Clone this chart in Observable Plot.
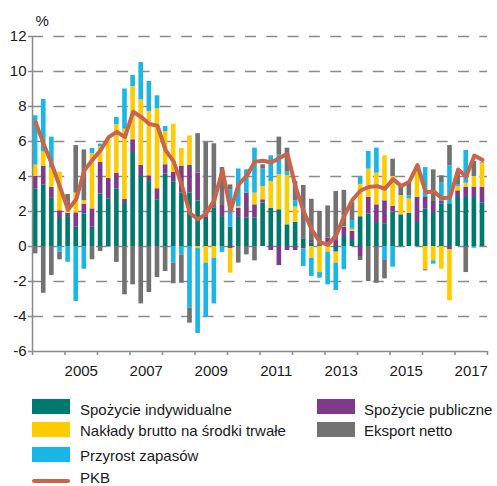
<!DOCTYPE html>
<html>
<head>
<meta charset="utf-8">
<script src="https://cdn.jsdelivr.net/npm/d3@7"></script>
<script src="https://cdn.jsdelivr.net/npm/@observablehq/plot@0.6"></script>
<style>
  html, body { margin: 0; padding: 0; background: #fff; }
  body { width: 497px; height: 486px; overflow: hidden; font-family: "Liberation Sans", Arial, sans-serif; }
  #legend { position: relative; width: 497px; height: 98px; font-size: 15px; color: #1a1a1a; }
  #legend .sw { position: absolute; width: 38px; height: 15px; }
  #legend .tx { position: absolute; line-height: 15px; white-space: nowrap; }
  #legend .ln { position: absolute; width: 38px; height: 4px; border-radius: 2px; }
</style>
</head>
<body>
<div id="chart"></div>
<div id="legend"></div>
<script>
// ---- data ----
const startYear = 2004;
const seriesNames = ["Spożycie indywidualne", "Spożycie publiczne", "Nakłady brutto na środki trwałe", "Przyrost zapasów", "Eksport netto"];
const lineName = "PKB";
const unitLabel = "%";
const yTicks = [-6, -4, -2, 0, 2, 4, 6, 8, 10, 12];
const tickYears = [2005, 2007, 2009, 2011, 2013, 2015, 2017];
const yearBounds = [2004, 2005, 2006, 2007, 2008, 2009, 2010, 2011, 2012, 2013, 2014, 2015, 2016, 2017, 2018];

const spozycieIndywidualne = [3.3,3.5,2.75,1.6,1.71,1.1,1.85,1.1,3.0,2.7,3.3,2.46,5.37,4.0,3.71,2.67,4.15,3.7,3.05,3.05,2.6,1.6,2.19,1.71,1.1,1.66,1.62,1.62,2.48,2.19,2.1,1.24,1.39,0.44,0.19,0.05,0.2,-0.32,0.57,0.34,1.7,1.85,1.37,1.3,1.96,1.81,1.9,1.37,2.15,1.94,2.42,2.44,2.8,2.86,2.8,2.48];
const spozyciePubliczne = [0.7,1.07,0.62,0.44,0.18,0.82,0.57,1.05,1.8,1.2,0.89,0.24,0.73,0.63,0.33,0.63,0.52,0.53,1.55,1.58,1.6,0.1,0.09,0.63,-0.12,0.53,1.43,0.76,0.19,-0.23,-1.09,-0.23,-0.23,-0.13,0.15,0,0.28,0.34,0.52,0.52,-0.57,0.95,1.01,1.31,0.33,0,0,1.43,0.65,0.63,0.15,-0.19,0.38,0.53,0.59,0.91];
const naklady = [0.65,0.83,1.11,2.21,0.4,1.13,0.2,3.15,0.9,2.2,2.76,4.0,3.04,3.75,3.67,4.57,1.9,2.76,1.0,1.69,-0.12,-0.95,-0.67,0,-1.4,0.1,0,0.67,0.76,1.52,2.0,2.82,0.86,0,-0.67,-1.49,-0.32,-0.63,0.03,0.13,1.85,1.62,1.81,2.57,1.71,1.1,0.82,1.77,-1.33,-0.82,-1.3,-2.91,0.25,0.23,0.61,1.37];
const przyrostZapasow = [2.82,3.0,1.77,-0.32,-0.9,-3.14,-1.3,0.3,0.15,-0.05,0.42,2.3,0.63,2.13,1.72,0.74,0.29,-0.95,-0.48,-3.52,-4.85,-3.1,-2.61,-0.34,2.14,2.14,1.33,2.57,0.99,1.47,1.14,0.19,0.36,-1.01,-1.04,-0.32,-1.87,-1.56,-1.33,0.5,0.39,1.01,1.43,-0.76,-1.18,0,0.18,0,1.71,-0.19,1.05,2.17,0.1,1.87,-0.1,0.05];
const eksportNetto = [-0.42,-2.67,-1.66,-0.44,0.68,2.72,2.9,-0.76,-0.29,0,-0.91,-2.76,-2.19,-3.28,-2.63,-1.77,-1.43,-1.18,-1.62,-0.86,2.25,4.24,3.59,2.17,0.28,-0.95,-0.48,-0.82,0.25,0,1.01,1.37,1.1,3.05,2.36,1.95,1.84,2.8,2.09,1.04,-0.23,-2.0,-2.1,-1.09,0.99,0.61,0.72,0,-0.06,1.81,0.42,1.16,0.67,-1.49,0.86,0];
const pkb = [7.1,5.85,4.7,3.4,2.1,2.7,4.35,4.95,5.5,6.25,6.55,6.25,7.7,7.4,7.0,6.9,5.5,4.85,3.5,1.9,1.55,1.9,2.65,4.35,2.05,3.55,4.05,4.85,4.9,4.8,5.05,5.3,3.4,2.0,0.95,0.25,0.1,0.65,1.75,2.67,3.2,3.4,3.45,3.3,3.85,3.45,3.7,4.65,3.1,3.15,2.76,2.8,4.4,4.0,5.2,4.95];

// ---- styles ----
const seriesColors = ["#007a6e", "#803a8b", "#ffcc00", "#19b6e8", "#737272"];
const lineColor = "#c8654b";
const axisColor = "#8a8a8a";
const textColor = "#1a1a1a";

// ---- build tables ----
const seriesValues = [spozycieIndywidualne, spozyciePubliczne, naklady, przyrostZapasow, eksportNetto];
const quarters = pkb.map((_, i) => ({t0: startYear + i / 4, t1: startYear + (i + 1) / 4, label: `${startYear + Math.floor(i / 4)} Q${i % 4 + 1}`}));
const barRows = [];
quarters.forEach((q, i) => {
  seriesNames.forEach((s, k) => barRows.push({t0: q.t0, t1: q.t1, series: s, value: seriesValues[k][i]}));
});
const lineRows = quarters.map((q, i) => ({t0: q.t0, value: pkb[i]}));

const chart = Plot.plot({
  width: 497,
  height: 388,
  marginLeft: 32,
  marginRight: 10,
  marginTop: 36,
  marginBottom: 37,
  style: {fontFamily: "'Liberation Sans', Arial, sans-serif", fontSize: "15px", background: "#fff"},
  x: {type: "linear", domain: [yearBounds[0], yearBounds[yearBounds.length - 1]], label: null},
  y: {domain: [yTicks[0], yTicks[yTicks.length - 1]], label: null},
  color: {domain: seriesNames, range: seriesColors},
  marks: [
    Plot.ruleY(yTicks.slice(1), {stroke: axisColor, strokeWidth: 1.5, strokeDasharray: "11,10.3"}),
    Plot.rectY(barRows, {x1: "t0", x2: "t1", y: "value", fill: "series", insetLeft: 0.8, insetRight: 2.7}),
    Plot.line(lineRows, {x: "t0", y: "value", dx: 3.1, stroke: lineColor, strokeWidth: 4, strokeLinejoin: "round", strokeLinecap: "round"}),
    Plot.ruleX([yearBounds[0]], {stroke: axisColor, strokeWidth: 1.5}),
    Plot.ruleY([yTicks[0]], {stroke: axisColor, strokeWidth: 1.5}),
    Plot.axisY({ticks: yTicks, label: null, tickSize: 4, tickPadding: 2, tickFormat: d => String(d), stroke: axisColor, color: textColor, fontSize: 15, strokeWidth: 1.5}),
    Plot.axisX({ticks: yearBounds, label: null, tickSize: 4, tickFormat: () => "", stroke: axisColor, strokeWidth: 1.5}),
    Plot.axisX({ticks: tickYears.map(y => y + 0.5), label: null, tickSize: 0, tickPadding: 14, tickFormat: d => String(Math.floor(d)), color: textColor, fontSize: 15}),
    Plot.text([unitLabel], {frameAnchor: "top-left", dx: 3, dy: -15, textAnchor: "start", lineAnchor: "middle", fill: textColor, fontSize: 15})
  ]
});
document.getElementById("chart").appendChild(chart);

// ---- legend (HTML, below the SVG) ----
const legend = document.getElementById("legend");
const legendItems = [
  {name: seriesNames[0], color: seriesColors[0], col: 0, row: 0},
  {name: seriesNames[2], color: seriesColors[2], col: 0, row: 1},
  {name: seriesNames[3], color: seriesColors[3], col: 0, row: 2},
  {name: seriesNames[1], color: seriesColors[1], col: 1, row: 0},
  {name: seriesNames[4], color: seriesColors[4], col: 1, row: 1}
];
const swLeft = [32, 317], txLeft = [80, 364];
const swTop = [11.3, 34, 58.5], txTop = [14, 35, 60];
legendItems.forEach(it => {
  const sw = document.createElement("div");
  sw.className = "sw";
  sw.style.left = swLeft[it.col] + "px";
  sw.style.top = swTop[it.row] + "px";
  sw.style.background = it.color;
  legend.appendChild(sw);
  const tx = document.createElement("div");
  tx.className = "tx";
  tx.style.left = txLeft[it.col] + "px";
  tx.style.top = txTop[it.row] + "px";
  tx.textContent = it.name;
  legend.appendChild(tx);
});
const ln = document.createElement("div");
ln.className = "ln";
ln.style.left = "32px"; ln.style.top = "91px"; ln.style.background = lineColor;
legend.appendChild(ln);
const lt = document.createElement("div");
lt.className = "tx";
lt.style.left = "80px"; lt.style.top = "82px";
lt.textContent = lineName;
legend.appendChild(lt);
</script>
</body>
</html>
